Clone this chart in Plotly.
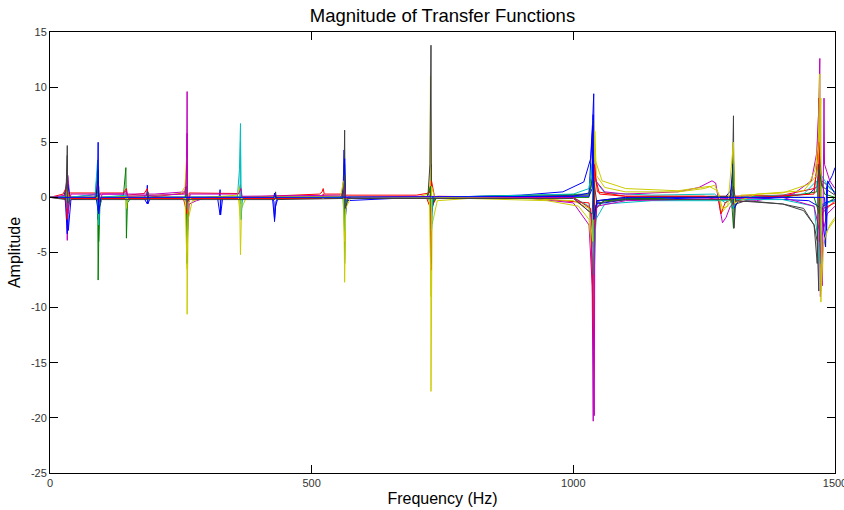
import plotly.graph_objects as go

# Frequency ticks / amplitude ticks
x_ticks = [0, 500, 1000, 1500]
y_ticks = [-25, -20, -15, -10, -5, 0, 5, 10, 15]

# Each transfer-function trace: (frequency Hz, amplitude) points
tf_b1 = [(0,0),(26,0.1),(31,0.8),(33,2.0),(35,-3.0),(40,-0.2),(86,-0.1),(91,0.6),(92,-2.0),(93,-1.0),(98,-0.1),
         (180,0),(185,0.3),(186,1.1),(187,-0.6),(192,0),(320,0),(324,0.2),(325,0.7),(326,-1.6),(330,0),
         (424,0),(428,-0.4),(429,-2.2),(431,-0.8),(436,0),(555,0),(560,0.6),(562,4.3),(563,-2.5),(568,0),
         (720,0),(727,0.8),(728,3.0),(729,-1.2),(735,0),(900,0.2),(980,0.5),(1020,1.4),(1033,3.5),(1037,7.0),
         (1039,9.4),(1040,-2.0),(1042,-0.8),(1050,-0.3),(1100,-0.1),(1200,0),(1290,0),(1304,0.8),(1306,2.9),
         (1308,-0.5),(1320,0),(1400,0.1),(1450,0.3),(1466,1.0),(1470,3.0),(1472,-1.5),(1480,-0.5),(1500,-0.2)]
tf_g1 = [(0,0),(28,0),(32,0.8),(33,-1.5),(36,0),(86,0),(91,2.5),(92,-7.5),(94,-1.0),(100,0),(140,0),(145,2.7),
         (146,-3.7),(148,-0.5),(155,0),(260,0),(262,-0.6),(264,0),(560,0),(562,1.5),(563,-6.0),(565,-0.5),(570,0),
         (725,0),(728,-2.0),(731,0),(1030,0.3),(1036,3.0),(1039,4.5),(1040,-5.0),(1044,-1.0),(1060,-0.2),(1200,0),
         (1302,0),(1306,-2.8),(1309,0),(1400,0),(1465,0.5),(1471,3.0),(1473,-1.0),(1500,0)]
tf_r1 = [(0,0),(25,0.3),(32,1.0),(33,2.2),(34,-1.5),(37,0.4),(90,0.4),(92,1.0),(93,-0.3),(96,0.4),(140,0.4),
         (146,0.8),(148,0.2),(180,0.35),(186,0.8),(188,0),(258,0.4),(262,3.0),(263,-1.5),(266,0.4),(362,0.35),
         (364,1.2),(366,0),(515,0.3),(520,0.5),(522,0.8),(524,0.3),(560,0.3),(563,0.8),(565,0.2),(700,0.2),
         (725,0.4),(728,1.5),(730,-0.8),(740,0.1),(900,0),(1030,-0.5),(1037,-3.5),(1040,-6.0),(1041,2.0),
         (1050,0.3),(1100,0.1),(1300,0.1),(1400,0.2),(1460,0.8),(1467,3.0),(1469,9.0),(1470,-4.0),(1474,-1.5),(1500,-0.3)]
tf_c1 = [(0,0),(28,0),(33,-1.2),(36,0),(86,0),(91,3.4),(92,-1.5),(96,0),(256,0),(261,-0.5),(262,-3.5),(264,-0.5),
         (270,0),(358,0),(362,2.5),(364,6.7),(365,-0.6),(370,0),(560,0),(563,3.0),(565,-0.5),(570,0),(722,0),
         (727,-0.6),(728,-3.4),(730,-0.3),(740,0),(1000,0),(1030,-0.8),(1036,-4.0),(1038,7.0),(1042,1.5),(1060,0.4),
         (1150,0.2),(1270,0.3),(1290,-0.5),(1300,-0.2),(1306,2.0),(1308,-0.5),(1320,0),(1440,0.3),(1465,1.5),
         (1470,-2.0),(1476,-0.6),(1500,-0.3)]
tf_m1 = [(0,0),(30,0),(32,-1.0),(33,-3.9),(34,2.0),(38,0),(100,0.3),(200,0.3),(258,0.5),(261,2.0),(262,9.6),
         (263,-3.0),(266,-0.6),(280,-0.3),(300,0),(700,0),(725,0),(728,0.6),(730,-0.2),(740,0),(900,0),(1000,-0.5),
         (1030,-2.5),(1036,-8.0),(1038,-20.3),(1039,5.0),(1043,1.5),(1060,0.5),(1100,0.3),(1200,0.5),(1240,0.9),
         (1265,1.5),(1272,1.3),(1280,-1.0),(1285,-2.3),(1292,-1.8),(1300,-0.8),(1310,-0.4),(1350,-0.3),(1420,0.3),
         (1455,1.5),(1465,4.0),(1469,8.0),(1471,12.6),(1472,-9.0),(1475,-3.5),(1485,-1.5),(1500,-0.8)]
tf_y1 = [(0,0),(30,0.1),(33,0.6),(34,-0.4),(40,0),(88,0),(92,1.2),(93,-0.8),(100,0),(250,0.3),(258,1.0),
         (261,3.6),(262,-10.6),(264,-2.0),(272,-0.3),(300,0),(358,0.2),(362,1.0),(364,-5.2),(366,-1.0),(375,0),
         (560,0),(563,-4.0),(566,0),(700,0),(722,0.3),(726,1.0),(727,11.0),(728,-17.6),(730,-2.5),(740,-0.3),
         (800,-0.1),(950,-0.3),(1010,-0.8),(1030,-2.0),(1037,-6.0),(1040,-16.4),(1041,6.0),(1044,2.0),(1060,0.9),
         (1100,0.5),(1200,0.5),(1250,0.8),(1270,1.1),(1278,0.3),(1283,-1.4),(1290,-1.0),(1300,-0.5),(1304,1.0),
         (1306,4.0),(1308,-1.0),(1320,0.2),(1400,0.4),(1450,1.2),(1462,2.5),(1468,5.0),(1471,11.2),(1473,-9.5),
         (1476,-5.0),(1485,-3.0),(1500,-2.0)]
tf_k1 = [(0,0),(28,0),(32,1.5),(33,4.7),(34,-1.0),(38,0),(88,0),(92,0.5),(93,-0.8),(97,0),(258,0),(262,0.4),
         (263,-0.3),(266,0),(558,0),(562,2.0),(563,6.1),(564,-1.0),(568,0),(722,0),(726,3.0),(728,13.8),(729,-1.5),
         (734,0),(1030,0.2),(1036,1.5),(1038,5.0),(1040,-1.5),(1046,-0.3),(1100,0),(1300,0.1),(1304,1.5),(1306,7.4),
         (1307,-2.8),(1310,-0.6),(1330,-0.3),(1400,-0.6),(1440,-1.2),(1460,-2.5),(1466,-4.0),(1469,-8.5),(1470,4.0),
         (1475,1.5),(1500,0.5)]
tf_b2 = [(0,0),(29,-0.1),(33,-3.3),(34,1.2),(38,0),(88,0),(92,-1.2),(94,0),(180,-0.1),(186,-0.6),(188,0),(320,0),
         (325,-1.6),(327,0),(425,0),(429,-2.0),(432,-0.3),(440,0),(560,0),(563,3.5),(565,-0.3),(700,0),(1000,0.1),
         (1030,0.4),(1037,6.5),(1039,-4.0),(1045,-0.6),(1100,-0.2),(1300,0),(1305,3.0),(1307,-1.0),(1320,0),
         (1450,-0.3),(1475,-1.0),(1482,-4.5),(1484,1.0),(1495,2.0),(1500,2.7)]
tf_g2 = [(0,0),(30,0),(33,1.5),(34,-0.8),(38,0),(90,0),(92,2.5),(93,-4.0),(96,0),(258,0),(261,1.0),(262,-6.0),
         (264,-0.5),(270,0),(720,0),(727,1.0),(728,-6.0),(730,-0.5),(740,0),(1030,0),(1037,2.0),(1039,-7.0),
         (1042,-1.0),(1060,-0.3),(1200,0),(1300,0),(1304,-1.0),(1306,3.5),(1308,0),(1460,0),(1470,-1.5),(1472,2.0),
         (1480,0.3),(1500,0)]
tf_r2 = [(0,0),(30,-0.1),(33,-2.0),(34,0.5),(40,-0.1),(255,-0.1),(262,-1.5),(264,-0.1),(520,-0.1),(522,0.3),
         (524,-0.1),(720,-0.1),(727,-1.0),(728,-6.6),(729,1.5),(735,0),(1000,0),(1033,-1.0),(1039,-13.8),(1040,3.0),
         (1046,0.5),(1100,0.1),(1250,0.1),(1278,-0.3),(1282,-1.5),(1290,-0.5),(1300,-0.2),(1306,-0.8),(1310,-0.1),
         (1460,0.3),(1470,5.0),(1472,-5.0),(1478,-1.0),(1500,-0.5)]
tf_c2 = [(0,0),(30,0.1),(32,0.3),(33,-1.0),(36,0),(92,0.3),(93,-2.5),(95,0),(146,0.2),(147,-0.5),(149,0),(363,0),
         (364,5.0),(365,-2.0),(368,0),(560,0),(563,-3.0),(566,0),(728,0),(729,-3.0),(731,0),(1000,0.3),(1030,0.8),
         (1036,3.0),(1040,-7.0),(1043,-2.0),(1060,-0.6),(1150,-0.3),(1300,-0.3),(1306,-1.0),(1309,-0.2),(1400,-0.2),
         (1460,-0.8),(1472,-6.0),(1474,2.0),(1490,0.8),(1500,0.5)]
tf_m2 = [(0,0),(30,0.2),(33,2.5),(34,-1.5),(40,0.3),(88,0.3),(92,1.5),(93,-0.5),(100,0.3),(140,0.3),(146,0.6),
         (148,0.1),(260,0.3),(262,5.8),(263,-1.0),(268,0.3),(360,0.3),(365,0.8),(367,0.1),(560,0.2),(563,1.0),
         (565,0),(700,0.1),(800,0),(1000,0),(1035,-1.5),(1040,-19.8),(1041,-3.0),(1045,-0.8),(1100,-0.3),(1300,-0.1),
         (1400,0),(1460,-0.8),(1470,-3.0),(1476,-8.0),(1479,9.0),(1480,3.0),(1490,1.5),(1500,0.8)]
tf_y2 = [(0,0),(30,0),(33,0.8),(35,0),(145,0),(146,-1.0),(148,0),(258,0),(262,-6.5),(264,-0.5),(270,0),(360,0),
         (364,-2.0),(366,0),(555,0.1),(561,1.5),(563,-7.7),(565,-1.0),(575,0),(725,0),(728,-9.0),(729,1.0),(735,0),
         (900,-0.1),(1000,-0.3),(1030,-1.0),(1037,-4.0),(1039,7.0),(1041,3.5),(1055,1.5),(1100,0.8),(1200,0.6),
         (1260,1.0),(1275,0.6),(1285,-1.0),(1295,-0.8),(1306,5.0),(1308,-0.5),(1350,0.3),(1440,0.6),(1465,2.0),
         (1470,5.0),(1473,9.0),(1474,-8.5),(1478,-4.0),(1490,-2.5),(1500,-1.8)]
tf_k2 = [(0,0),(30,-0.2),(33,3.8),(34,-0.5),(40,-0.2),(92,-0.2),(93,1.0),(95,-0.2),(186,-0.2),(187,0.5),(189,-0.2),
         (430,-0.2),(431,0.5),(433,-0.2),(560,-0.1),(563,2.0),(564,-1.0),(570,-0.1),(1000,-0.1),(1036,-1.5),
         (1039,1.5),(1045,-0.5),(1100,-0.2),(1300,-0.2),(1306,1.0),(1310,-0.3),(1400,-0.6),(1440,-1.0),(1460,-2.5),
         (1466,-6.0),(1468,3.0),(1475,1.0),(1500,0.2)]
tf_b3 = [(0,0),(88,0),(91,1.5),(92,5.0),(93,-1.5),(97,0),(428,0),(429,0.4),(431,0),(1030,0.1),(1036,0.8),
         (1038,7.5),(1039,-2.0),(1045,-0.3),(1100,0),(1480,0),(1484,-3.0),(1486,1.5),(1500,0.3)]

traces = [tf_b1, tf_g1, tf_r1, tf_c1, tf_m1, tf_y1, tf_k1,
          tf_b2, tf_g2, tf_r2, tf_c2, tf_m2, tf_y2, tf_k2, tf_b3]
color_order = ["#0000ff", "#008000", "#ff0000", "#00bfbf", "#bf00bf", "#cccc00", "#404040"]

fig = go.Figure()
for i, tr in enumerate(traces):
    fig.add_trace(go.Scatter(
        x=[p[0] for p in tr], y=[p[1] for p in tr], mode="lines",
        line=dict(color=color_order[i % len(color_order)], width=1),
        showlegend=False, hoverinfo="skip"))

axis_common = dict(showline=True, linecolor="black", linewidth=1, mirror="ticks",
                   ticks="inside", ticklen=8, tickcolor="black", showgrid=False, zeroline=False,
                   automargin=False,
                   tickfont=dict(family="Liberation Sans, Arial", size=11, color="#333333"))
fig.update_xaxes(range=[0, 1500], tickvals=x_ticks, ticktext=[str(v) for v in x_ticks],
                 ticklabeloverflow="allow",
                 title=dict(text="Frequency (Hz)", standoff=4,
                            font=dict(family="Liberation Sans, Arial", size=16, color="black")),
                 **axis_common)
fig.update_yaxes(range=[-25, 15], tickvals=y_ticks, ticktext=[str(v) for v in y_ticks],
                 title=dict(text="Amplitude", standoff=6,
                            font=dict(family="Liberation Sans, Arial", size=16, color="black")),
                 **axis_common)
fig.update_layout(
    width=844, height=510, autosize=False,
    margin=dict(l=50, r=9, t=32, b=37),
    paper_bgcolor="white", plot_bgcolor="white",
    title=dict(text="Magnitude of Transfer Functions", x=0.5, xref="paper",
               y=1 - 16/510, yref="container", yanchor="middle",
               font=dict(family="Liberation Sans, Arial", size=18.5, color="black")),
)
fig.write_html("out.html")
